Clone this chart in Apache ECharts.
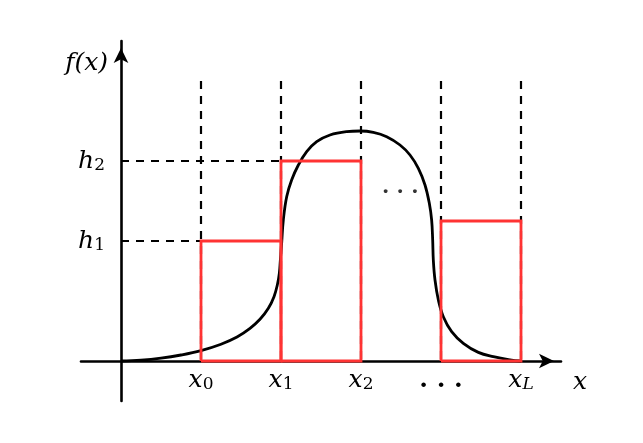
<!DOCTYPE html>
<html>
<head>
<meta charset="utf-8">
<script src="https://cdn.jsdelivr.net/npm/echarts@6/dist/echarts.min.js"></script>
<style>html,body{margin:0;padding:0;background:#fff;}#c{width:643px;height:443px;}</style>
</head>
<body>
<div id="c"></div>
<script>
// ---- data ----
const xTickValues = [1, 2, 3, 4, 5];
const xTickMain = ['x', 'x', 'x', '. . .', 'x'];
const xTickSub = ['0', '1', '2', '', 'L'];
const yTickValues = [1.5, 2.5];
const yTickMain = ['h', 'h'];
const yTickSub = ['1', '2'];
const xAxisName = 'x';
const yAxisName = 'f(x)';

const curveX = [0, 0.25, 0.5, 0.75, 1.0, 1.25, 1.45, 1.6125, 1.7375, 1.842, 1.9125, 1.954, 1.979, 1.992, 2.008, 2.029, 2.071, 2.133, 2.217, 2.321, 2.446, 2.6125, 2.821, 2.9875, 3.154, 3.321, 3.4875, 3.6125, 3.717, 3.8, 3.854, 3.883, 3.896, 3.904, 3.925, 3.967, 4.029, 4.133, 4.279, 4.467, 4.654, 4.8625, 5.0];
const curveY = [0, 0.01, 0.035, 0.075, 0.13, 0.21, 0.3, 0.408, 0.521, 0.658, 0.804, 0.95, 1.096, 1.2625, 1.471, 1.7625, 2.054, 2.2625, 2.45, 2.617, 2.742, 2.825, 2.867, 2.875, 2.858, 2.804, 2.7, 2.575, 2.408, 2.2, 1.971, 1.7625, 1.5125, 1.2625, 1.0125, 0.7625, 0.554, 0.367, 0.221, 0.108, 0.054, 0.015, 0];

const binLeft = [1, 2, 4];
const binRight = [2, 3, 5];
const binHeight = [1.5, 2.5, 1.75];

const guideX = [1, 2, 3, 4, 5];
const guideTop = 3.5;
const levelY = [1.5, 2.5];
const levelEndX = [1, 2];

const dotsText = '. . .';
const dotsPos = [3.49, 2.14];

// ---- chart ----
const FONT = 'DejaVu Serif';
const RED = '#ff3333';
const rich = {
  v: { fontFamily: FONT, fontStyle: 'italic', fontSize: 25, color: '#000', lineHeight: 26, verticalAlign: 'bottom' },
  s: { fontFamily: FONT, fontSize: 17, color: '#000', lineHeight: 14, verticalAlign: 'bottom' },
  si: { fontFamily: FONT, fontStyle: 'italic', fontSize: 17, color: '#000', lineHeight: 14, verticalAlign: 'bottom' },
  d: { fontFamily: FONT, fontSize: 25, fontWeight: 'bold', color: '#000', lineHeight: 26, verticalAlign: 'bottom' }
};
function findIdx(arr, v) {
  for (let i = 0; i < arr.length; i++) if (Math.abs(arr[i] - v) < 1e-6) return i;
  return -1;
}
function subStyle(t) { return /^[0-9]+$/.test(t) ? 's' : 'si'; }
function xFmt(v) {
  const i = findIdx(xTickValues, v);
  if (i < 0) return '';
  if (xTickSub[i] === '') return '{d|' + xTickMain[i] + '}';
  return '{v|' + xTickMain[i] + '}{' + subStyle(xTickSub[i]) + '|' + xTickSub[i] + '}';
}
function yFmt(v) {
  const i = findIdx(yTickValues, v);
  if (i < 0) return '';
  return '{v|' + yTickMain[i] + '}{' + subStyle(yTickSub[i]) + '|' + yTickSub[i] + '}';
}

const series = [];
guideX.forEach(function (x) {
  series.push({
    type: 'line', data: [[x, guideTop], [x, 0]], symbol: 'none', z: 1,
    lineStyle: { color: '#000', width: 2.2, type: [8, 7] }, silent: true
  });
});
levelY.forEach(function (y, i) {
  series.push({
    type: 'line', data: [[0, y], [levelEndX[i], y]], symbol: 'none', z: 1,
    lineStyle: { color: '#000', width: 2.2, type: [8, 7] }, silent: true
  });
});
series.push({
  type: 'line', data: curveX.map(function (x, i) { return [x, curveY[i]]; }),
  symbol: 'none', smooth: 0.4, z: 3,
  lineStyle: { color: '#000', width: 2.8 }
});
binLeft.forEach(function (l, i) {
  const r = binRight[i], h = binHeight[i];
  series.push({
    type: 'line', data: [[l, 0], [l, h], [r, h], [r, 0], [l, 0]], symbol: 'none', z: 5,
    lineStyle: { color: RED, width: 2.8, join: 'miter' }
  });
});
series.push({
  type: 'scatter', data: [dotsPos], symbolSize: 0, z: 6,
  label: { show: true, position: 'inside', formatter: dotsText, fontFamily: FONT, fontSize: 21, fontWeight: 'bold', color: '#000', offset: [0, -2] }
});

const chart = echarts.init(document.getElementById('c'), null, { renderer: 'canvas' });
chart.setOption({
  animation: false,
  backgroundColor: '#fff',
  grid: { left: 81, top: 41, width: 480, height: 360, containLabel: false },
  xAxis: {
    type: 'value', min: -0.5, max: 5.5, interval: 0.5,
    splitLine: { show: false }, axisTick: { show: false },
    axisLine: { onZero: true, lineStyle: { color: '#000', width: 2.6 }, symbol: ['none', 'arrow'], symbolSize: [11, 15], symbolOffset: [0, -7] },
    axisLabel: { interval: 0, formatter: xFmt, rich: rich, margin: -34, hideOverlap: false, showMinLabel: true, showMaxLabel: true },
    name: xAxisName, nameLocation: 'end', nameGap: 12,
    nameTextStyle: { fontFamily: FONT, fontStyle: 'italic', fontSize: 25, color: '#000', align: 'left', verticalAlign: 'top', padding: [9, 0, 0, 0] }
  },
  yAxis: {
    type: 'value', min: -0.5, max: 4, interval: 0.5,
    splitLine: { show: false }, axisTick: { show: false },
    axisLine: { onZero: true, lineStyle: { color: '#000', width: 2.6 }, symbol: ['none', 'arrow'], symbolSize: [11, 15], symbolOffset: [0, -7] },
    axisLabel: { interval: 0, formatter: yFmt, rich: rich, margin: -24, hideOverlap: false },
    name: yAxisName, nameLocation: 'end', nameGap: -22,
    nameTextStyle: { fontFamily: FONT, fontStyle: 'italic', fontSize: 25, color: '#000', align: 'right', verticalAlign: 'middle', padding: [0, 13, 0, 0] }
  },
  series: series
});
</script>
</body>
</html>
